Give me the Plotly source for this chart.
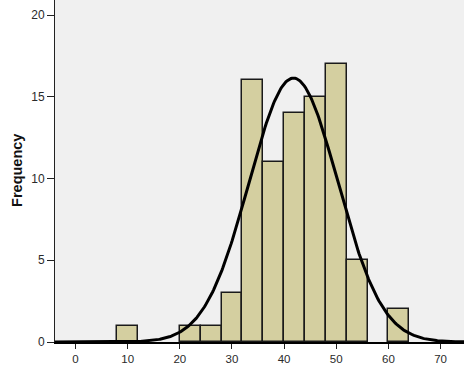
import numpy as np
import plotly.graph_objects as go

# Histogram bins (lower edges, width 4) and frequencies
bin_lower = [8, 20, 24, 28, 32, 36, 40, 44, 48, 52, 60]
bin_width = 4
counts = [1, 1, 1, 3, 16, 11, 14, 15, 17, 5, 2]

# Fitted normal curve parameters
mean_val = 41.8
sd_val = 8.5
n_total = sum(counts)

x_ticks = [0, 10, 20, 30, 40, 50, 60, 70]
y_ticks = [0, 5, 10, 15, 20]

centers = [b + bin_width / 2 for b in bin_lower]
xc = np.linspace(-4, 75, 400)
yc = n_total * bin_width / (sd_val * np.sqrt(2 * np.pi)) * np.exp(-0.5 * ((xc - mean_val) / sd_val) ** 2)

fig = go.Figure()
fig.add_trace(go.Bar(
    x=centers, y=counts, width=[bin_width] * len(centers),
    marker=dict(color="#D4CFA0", line=dict(color="#1a1a1a", width=1.5)),
    showlegend=False,
))
fig.add_trace(go.Scatter(
    x=xc, y=yc, mode="lines",
    line=dict(color="black", width=3), showlegend=False,
))

fig.update_layout(
    width=464, height=365,
    margin=dict(l=55, r=0, t=0, b=23, autoexpand=False),
    paper_bgcolor="white", plot_bgcolor="#F0F0F0",
    font=dict(family="Liberation Sans, Arial", size=12, color="#2a2a2a"),
    bargap=0,
    annotations=[dict(
        text="<b>Frequency</b>", textangle=-90, xref="paper", yref="paper",
        x=-0.093, y=0.503, xanchor="center", yanchor="middle", showarrow=False,
        font=dict(size=14.5, color="#111"),
    )],
)
fig.update_xaxes(
    range=[-3.93, 74.5], tickvals=x_ticks, ticks="outside", ticklen=5,
    tickfont=dict(size=11.5), ticklabelstandoff=0,
    tickcolor="#222", showgrid=False, zeroline=False, automargin=False,
    showline=True, linecolor="black", linewidth=2,
)
fig.update_yaxes(
    range=[0, 20.92], tickvals=y_ticks, ticks="outside", ticklen=7,
    tickcolor="#222", showgrid=False, zeroline=False, automargin=False,
    showline=True, linecolor="#222", linewidth=1,
)

fig.write_html("out.html", config={"displayModeBar": False},
               post_script="document.body.style.margin='0';document.body.style.overflow='hidden';")
